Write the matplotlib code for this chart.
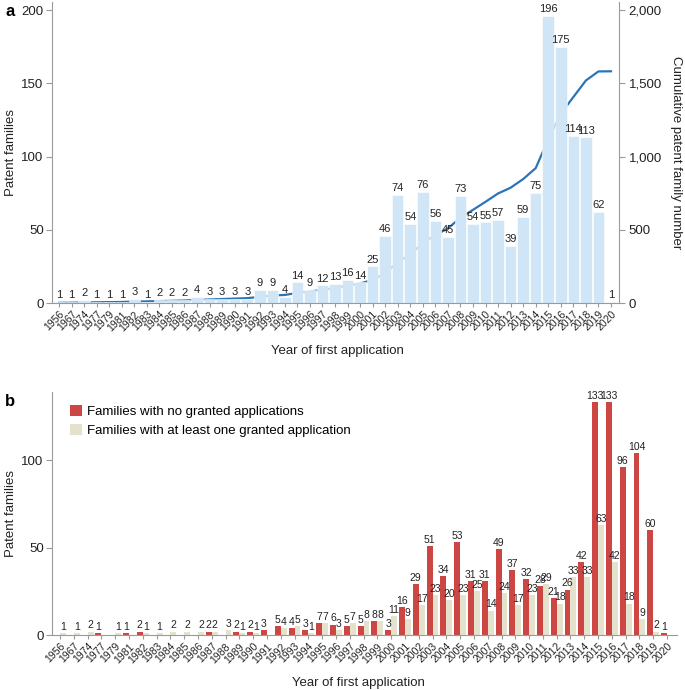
import numpy as np
import matplotlib
matplotlib.use("Agg")
import matplotlib.pyplot as plt
from matplotlib.patches import Patch

plt.rcParams['font.family'] = ['Liberation Sans', 'DejaVu Sans']

years = [1956, 1967, 1974, 1977, 1979, 1981, 1982, 1983, 1984, 1985, 1986, 1987,
         1988, 1989, 1990, 1991, 1992, 1993, 1994, 1995, 1996, 1997, 1998, 1999,
         2000, 2001, 2002, 2003, 2004, 2005, 2006, 2007, 2008, 2009, 2010, 2011,
         2012, 2013, 2014, 2015, 2016, 2017, 2018, 2019, 2020]

totals = [1, 1, 2, 1, 1, 1, 3, 1, 2, 2, 2, 4,
          3, 3, 3, 3, 9, 9, 4, 14, 9, 12, 13, 16,
          14, 25, 46, 74, 54, 76, 56, 45, 73, 54, 55, 57,
          39, 59, 75, 196, 175, 114, 113, 62, 1]

no_granted = [0, 0, 0, 1, 0, 1, 2, 0, 0, 0, 0, 2,
              0, 2, 2, 3, 5, 4, 3, 7, 6, 5, 5, 8,
              3, 16, 29, 51, 34, 53, 31, 31, 49, 37, 32, 28,
              21, 26, 42, 133, 133, 96, 104, 60, 1]

granted = [1, 1, 2, 0, 1, 0, 1, 1, 2, 2, 2, 2,
           3, 1, 1, 0, 4, 5, 1, 7, 3, 7, 8, 8,
           11, 9, 17, 23, 20, 23, 25, 14, 24, 17, 23, 29,
           18, 33, 33, 63, 42, 18, 9, 2, 0]

cumulative = np.cumsum(totals)

W, H = 685, 690
fig = plt.figure(figsize=(W / 100, H / 100), dpi=100)

def frac(l, t, r, b):
    return [l / W, 1 - b / H, (r - l) / W, (b - t) / H]

spine_c = '#9a9a9a'
txt_c = '#222222'
bar_blue = '#d0e6f6'
line_blue = '#2b74b9'
red = '#cc4644'
beige = '#e4e2cd'

tick_fs = 9.5
year_fs = 7.5
lab_fs = 9.5

x = np.arange(len(years))

# ---------------- Panel a ----------------
ax = fig.add_axes(frac(52, 2, 619, 303))
ax.bar(x, totals, width=0.92, color=bar_blue, edgecolor='white', linewidth=0.4, zorder=1)
for xi, v in zip(x, totals):
    ax.text(xi, v + 1.2, str(v), ha='center', va='bottom', fontsize=8, color=txt_c, zorder=4)
ax.set_xlim(-0.56, 44.64)
ax.set_ylim(0, 205.5)
ax.set_yticks([0, 50, 100, 150, 200])
ax.set_yticklabels(['0', '50', '100', '150', '200'], fontsize=tick_fs, color=txt_c)
ax.set_xticks(x)
ax.set_xticklabels([str(y) for y in years], rotation=45, ha='right', rotation_mode='anchor',
                   fontsize=year_fs, color=txt_c)
ax.tick_params(axis='x', length=3, color=spine_c, pad=1.5)
ax.tick_params(axis='y', length=4, color=spine_c, pad=2)
for s in ['top', 'right']:
    ax.spines[s].set_visible(False)
for s in ['left', 'bottom']:
    ax.spines[s].set_color(spine_c)
ax.set_ylabel('Patent families', fontsize=lab_fs, color=txt_c)
ax.yaxis.set_label_coords(-0.062, 0.5)
ax.set_xlabel('Year of first application', fontsize=lab_fs, color=txt_c)
ax.xaxis.set_label_coords(0.503, -0.14)

ax2 = ax.twinx()
ax2.plot(x, cumulative, color=line_blue, linewidth=1.6, zorder=3)
ax2.set_ylim(0, 2055)
ax2.set_yticks([0, 500, 1000, 1500, 2000])
ax2.set_yticklabels(['0', '500', '1,000', '1,500', '2,000'], fontsize=tick_fs, color=txt_c)
ax2.tick_params(axis='y', length=4, color=spine_c, pad=3)
for s in ['top', 'left', 'bottom']:
    ax2.spines[s].set_visible(False)
ax2.spines['right'].set_color(spine_c)
ax2.set_ylabel('Cumulative patent family number', fontsize=lab_fs, color=txt_c, rotation=270)
ax2.yaxis.set_label_coords(1.111, 0.5)
ax.set_zorder(ax2.get_zorder() + 1)
ax.patch.set_visible(False)

fig.text(5 / W, 1 - 11 / H, 'a', fontsize=12, fontweight='bold', ha='left', va='center',
         color='black')

# ---------------- Panel b ----------------
bx = fig.add_axes(frac(52, 392, 677, 635))
bw = 0.43
bx.bar(x, no_granted, width=-bw, align='edge', color=red, zorder=2)
bx.bar(x, granted, width=bw, align='edge', color=beige, zorder=2)
for xi, v in zip(x, no_granted):
    if v > 0:
        bx.text(xi - bw / 2, v + 0.6, str(v), ha='center', va='bottom', fontsize=7.5,
                color=txt_c, zorder=4)
for xi, v in zip(x, granted):
    if v > 0:
        bx.text(xi + bw / 2, v + 0.6, str(v), ha='center', va='bottom', fontsize=7.5,
                color=txt_c, zorder=4)
bx.set_xlim(-0.58, 44.72)
bx.set_ylim(0, 139)
bx.set_yticks([0, 50, 100])
bx.set_yticklabels(['0', '50', '100'], fontsize=tick_fs, color=txt_c)
bx.set_xticks(x)
bx.set_xticklabels([str(y) for y in years], rotation=45, ha='right', rotation_mode='anchor',
                   fontsize=year_fs, color=txt_c)
bx.tick_params(axis='x', length=3, color=spine_c, pad=1.5)
bx.tick_params(axis='y', length=4, color=spine_c, pad=2)
for s in ['top', 'right']:
    bx.spines[s].set_visible(False)
for s in ['left', 'bottom']:
    bx.spines[s].set_color(spine_c)
bx.set_ylabel('Patent families', fontsize=lab_fs, color=txt_c)
bx.yaxis.set_label_coords(-0.056, 0.5)
bx.set_xlabel('Year of first application', fontsize=lab_fs, color=txt_c)
bx.xaxis.set_label_coords(0.49, -0.172)
handles = [Patch(facecolor=red, edgecolor='none', label='Families with no granted applications'),
           Patch(facecolor=beige, edgecolor='none', label='Families with at least one granted application')]
bx.legend(handles=handles, loc='upper left', bbox_to_anchor=(18 / 625, 1 - 13 / 243),
          frameon=False, fontsize=9.5, handlelength=0.9, handleheight=0.9, handletextpad=0.4,
          labelspacing=0.45, borderaxespad=0.0, borderpad=0.0)

fig.text(5 / W, 1 - 401 / H, 'b', fontsize=12, fontweight='bold', ha='left', va='center',
         color='black')

fig.savefig('out.png', dpi=100)
